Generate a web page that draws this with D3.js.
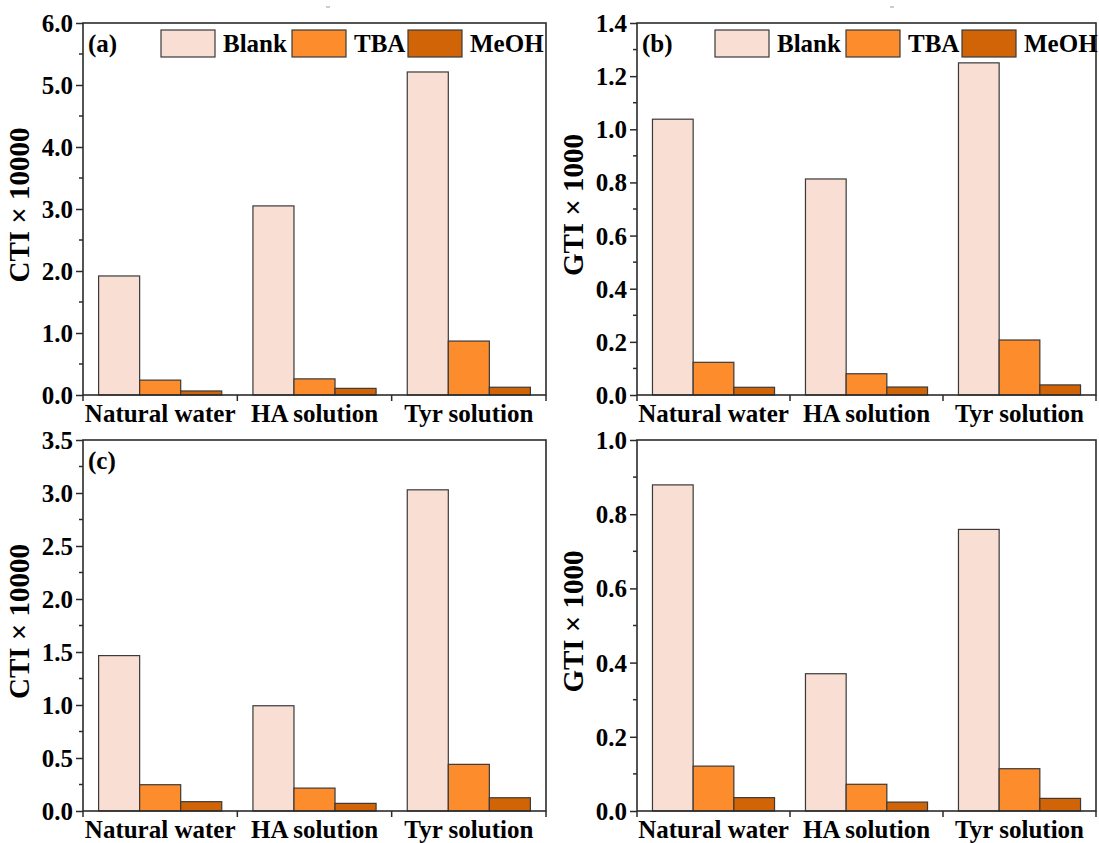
<!DOCTYPE html>
<html>
<head>
<meta charset="utf-8">
<script src="https://cdn.jsdelivr.net/npm/d3@7"></script>
<style>
  html, body { margin: 0; padding: 0; background: #fff; }
</style>
</head>
<body>
<svg id="fig" width="1099" height="843"></svg>
<script>
// Sample groups and treatments
const categories = ["Natural water", "HA solution", "Tyr solution"];
const seriesNames = ["Blank", "TBA", "MeOH"];

// (a) CTI × 10000
const aBlank = [1.92, 3.05, 5.21];
const aTBA   = [0.24, 0.26, 0.87];
const aMeOH  = [0.065, 0.107, 0.125];
const aTicks = [0, 1, 2, 3, 4, 5, 6];

// (b) GTI × 1000
const bBlank = [1.038, 0.813, 1.25];
const bTBA   = [0.123, 0.080, 0.207];
const bMeOH  = [0.029, 0.030, 0.038];
const bTicks = [0, 0.2, 0.4, 0.6, 0.8, 1.0, 1.2, 1.4];

// (c) CTI × 10000
const cBlank = [1.466, 0.993, 3.03];
const cTBA   = [0.248, 0.216, 0.44];
const cMeOH  = [0.088, 0.072, 0.125];
const cTicks = [0, 0.5, 1.0, 1.5, 2.0, 2.5, 3.0, 3.5];

// (d) GTI × 1000
const dBlank = [0.879, 0.37, 0.759];
const dTBA   = [0.121, 0.072, 0.114];
const dMeOH  = [0.036, 0.024, 0.034];
const dTicks = [0, 0.2, 0.4, 0.6, 0.8, 1.0];

const colors = { Blank: "#F8DED3", TBA: "#FD8C2D", MeOH: "#D26408" };
const axisColor = "#2b2b2b";
const fontSize = 25;
const serif = "'Liberation Serif', 'Times New Roman', Times, serif";

const svg = d3.select("#fig");

// every label uses the same bold serif face
function styleText(sel, size) {
  return sel.attr("font-family", serif)
    .attr("font-weight", "bold")
    .attr("font-size", size)
    .attr("fill", "#000")
    .style("font-family", serif)
    .style("font-weight", "bold");
}

const panels = [
  { tag: "(a)", title: "CTI × 10000", left: 83,  top: 23,  width: 463, height: 372,
    ticks: aTicks, minorStep: 0.5, data: [aBlank, aTBA, aMeOH], legend: true },
  { tag: "(b)", title: "GTI × 1000",  left: 637, top: 23,  width: 459, height: 372,
    ticks: bTicks, minorStep: 0.1, data: [bBlank, bTBA, bMeOH], legend: true },
  { tag: "(c)", title: "CTI × 10000", left: 83,  top: 440, width: 463, height: 371,
    ticks: cTicks, minorStep: 0.25, data: [cBlank, cTBA, cMeOH], legend: false },
  { tag: null,  title: "GTI × 1000",  left: 637, top: 440, width: 459, height: 371,
    ticks: dTicks, minorStep: 0.1, data: [dBlank, dTBA, dMeOH], legend: false }
];

panels.forEach(p => {
  const g = svg.append("g");
  const yMax = p.ticks[p.ticks.length - 1];
  const y = d3.scaleLinear().domain([0, yMax]).range([p.top + p.height, p.top]);
  const x0 = d3.scaleBand().domain(categories).range([p.left, p.left + p.width])
    .paddingInner(0).paddingOuter(0);
  const x1 = d3.scaleBand().domain(seriesNames).range([0, x0.bandwidth()])
    .paddingInner(0).paddingOuter(0.38);

  // bars
  const rows = [];
  categories.forEach((c, i) => {
    seriesNames.forEach((s, j) => rows.push({ cat: c, ser: s, val: p.data[j][i] }));
  });
  g.append("g").selectAll("rect").data(rows).join("rect")
    .attr("x", d => x0(d.cat) + x1(d.ser))
    .attr("y", d => y(d.val))
    .attr("width", x1.bandwidth())
    .attr("height", d => y(0) - y(d.val))
    .attr("fill", d => colors[d.ser])
    .attr("stroke", "#3a3a3a")
    .attr("stroke-width", 1.2);

  // minor y ticks
  const minor = d3.range(0, yMax + 1e-9, p.minorStep).filter(v => !p.ticks.some(t => Math.abs(t - v) < 1e-9));
  g.append("g").selectAll("line").data(minor).join("line")
    .attr("x1", p.left - 4).attr("x2", p.left)
    .attr("y1", d => y(d)).attr("y2", d => y(d))
    .attr("stroke", axisColor).attr("stroke-width", 1.5);

  // major y axis
  const yAxis = d3.axisLeft(y).tickValues(p.ticks).tickFormat(d3.format(".1f"))
    .tickSize(7).tickPadding(3).tickSizeOuter(0);
  const ya = g.append("g").attr("transform", `translate(${p.left},0)`).call(yAxis);
  ya.attr("font-family", null).attr("font-size", null);
  ya.select(".domain").remove();
  ya.selectAll(".tick line").attr("stroke", axisColor).attr("stroke-width", 1.5);
  styleText(ya.selectAll(".tick text"), fontSize).attr("dy", "0.34em");

  // group separator ticks on the x axis
  const bounds = d3.range(categories.length + 1).map(i => p.left + i * x0.step());
  g.append("g").selectAll("line").data(bounds).join("line")
    .attr("x1", d => d).attr("x2", d => d)
    .attr("y1", p.top + p.height).attr("y2", p.top + p.height + 6)
    .attr("stroke", axisColor).attr("stroke-width", 1.5);

  // category labels
  styleText(g.append("g").selectAll("text").data(categories).join("text"), fontSize)
    .attr("x", d => x0(d) + x0.bandwidth() / 2)
    .attr("y", p.top + p.height + 27)
    .attr("text-anchor", "middle")
    .text(d => d);

  // frame
  g.append("rect")
    .attr("x", p.left).attr("y", p.top)
    .attr("width", p.width).attr("height", p.height)
    .attr("fill", "none").attr("stroke", axisColor).attr("stroke-width", 1.6);

  // y title
  styleText(g.append("text"), 29)
    .attr("transform", `translate(${p.left - 54},${p.top + p.height / 2 - 4}) rotate(-90)`)
    .attr("text-anchor", "middle")
    .text(p.title);

  // panel tag
  if (p.tag) {
    styleText(g.append("text"), fontSize)
      .attr("x", p.left + 5).attr("y", p.top + 29)
      .text(p.tag);
  }

  // legend
  if (p.legend) {
    const lg = g.append("g");
    const boxX = [78, 209, 325];
    seriesNames.forEach((s, i) => {
      lg.append("rect")
        .attr("x", p.left + boxX[i]).attr("y", p.top + 7)
        .attr("width", 54).attr("height", 27)
        .attr("fill", colors[s]).attr("stroke", "#3a3a3a").attr("stroke-width", 1.2);
      styleText(lg.append("text"), fontSize)
        .attr("x", p.left + boxX[i] + 62).attr("y", p.top + 29)
        .text(s);
    });
  }
});

// small stray marks above the top panels
[328, 892].forEach(xm => {
  svg.append("line").attr("x1", xm - 2).attr("x2", xm + 2)
    .attr("y1", 7).attr("y2", 7).attr("stroke", "#999").attr("stroke-width", 1);
});
</script>
</body>
</html>
